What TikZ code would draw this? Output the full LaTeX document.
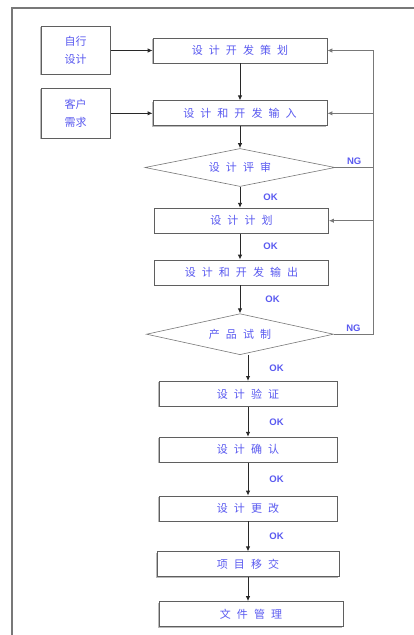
\documentclass[tikz,border=0pt]{standalone}
\usepackage{fontspec}
\usepackage{xcolor}
\usepackage{tikz}
\usetikzlibrary{shapes.geometric,arrows.meta,positioning,shadows}

\newfontfamily\cjk{Noto Sans CJK SC}
\newfontfamily\cjkwide[LetterSpace=55]{Noto Sans CJK SC}
\newfontfamily\lbl{Liberation Sans}

\definecolor{txtblue}{RGB}{90,90,240}
\definecolor{boxgray}{RGB}{95,95,95}
\definecolor{linegray}{RGB}{120,120,120}
\definecolor{arrowdark}{RGB}{40,40,40}

\newcommand{\wide}[1]{#1\hspace{-0.55em}}

\begin{document}
\begin{tikzpicture}[
    x=1pt, y=-1pt,
    stepbox/.style={rectangle, draw=boxgray, line width=0.8pt, fill=white,
        drop shadow={shadow xshift=-0.9pt, shadow yshift=-0.9pt, fill=gray!55, opacity=1},
        minimum width=174pt, minimum height=25pt, inner sep=0pt,
        text=txtblue, font=\cjkwide\fontsize{11}{13}\selectfont},
    sidebox/.style={rectangle, draw=boxgray, line width=0.8pt, fill=white,
        drop shadow={shadow xshift=-0.9pt, shadow yshift=-0.9pt, fill=gray!55, opacity=1},
        minimum width=69pt, minimum height=48pt, inner sep=0pt, align=center,
        text=txtblue, font=\cjk\fontsize{11}{18}\selectfont},
    check/.style={diamond, shape aspect=6, draw=linegray, line width=0.6pt, inner sep=0pt,
        minimum width=190pt, minimum height=38pt,
        text=txtblue, font=\cjkwide\fontsize{11}{13}\selectfont},
    arrow/.style={-{Latex[length=5pt,width=4.5pt]}, draw=arrowdark, line width=0.9pt},
    fbline/.style={draw=linegray, line width=0.9pt},
    fbarrow/.style={fbline, -{Latex[length=5pt,width=4.5pt]}},
    ok/.style={text=txtblue, font=\lbl\bfseries\fontsize{9.5}{10}\selectfont, inner sep=1pt},
    frame/.style={draw=linegray, line width=1.2pt}
]
\useasboundingbox (0,0) rectangle (414,635);

% outer frame
\draw[frame] (12,635) |- (414,8);

% design and development steps
\node[stepbox] (plan) at (240,50.5) {\wide{设计开发策划}};
\node[stepbox, below=37pt of plan] (input) {\wide{设计和开发输入}};
\node[check, below=22pt of input] (review) {\wide{设计评审}};
\node[stepbox, below=21pt of review, xshift=1.5pt] (scheme) {\wide{设计计划}};
\node[stepbox, below=26pt of scheme] (output) {\wide{设计和开发输出}};
\node[check, below=28pt of output, xshift=-1.5pt, minimum width=187pt, minimum height=41pt] (trial) {\wide{产品试制}};
\node[stepbox, below=26pt of trial, xshift=8pt, minimum width=178pt] (verify) {\wide{设计验证}};
\node[stepbox, below=30pt of verify, minimum width=178pt] (confirm) {\wide{设计确认}};
\node[stepbox, below=33pt of confirm, minimum width=178pt] (change) {\wide{设计更改}};
\node[stepbox, below=30pt of change, minimum width=182pt] (handover) {\wide{项目移交}};
\node[stepbox, below=24pt of handover, xshift=3pt, minimum width=184pt] (docs) {\wide{文件管理}};

% inputs on the left
\node[sidebox, left=42pt of plan] (self) {自行\\设计};
\node[sidebox, left=42pt of input, minimum height=50pt] (cust) {客户\\需求};

% feedback line
\coordinate (fb) at (373,0);

% arrows
\draw[arrow] (self) -- (plan);
\draw[arrow] (cust) -- (input);
\draw[arrow] (plan) -- (input);
\draw[arrow] (input) -- (review);
\draw[arrow] (review.south) -- node[ok, right=22pt] {OK} (review.south |- scheme.north);
\draw[arrow] (scheme.south -| review.south) -- node[ok, right=22pt] {OK} (output.north -| review.south);
\draw[arrow] (output.south -| review.south) -- node[ok, right=24pt] {OK} (trial.north);
\draw[arrow] (trial.south -| verify.north) -- node[ok, right=20pt] {OK} (verify.north);
\draw[arrow] (verify) -- node[ok, right=20pt] {OK} (confirm);
\draw[arrow] (confirm) -- node[ok, right=20pt] {OK} (change);
\draw[arrow] (change) -- node[ok, right=20pt] {OK} (change.south |- handover.north);
\draw[arrow] (handover) -- (handover.south |- docs.north);

% NG returns
\draw[fbline] (review.east) -- node[ok, above=1pt] {NG} (review.east -| fb);
\draw[fbarrow] (trial.east) -- node[ok, above=1pt] {NG} (trial.east -| fb) |- (plan.east);
\draw[fbarrow] (input.east -| fb) -- (input.east);
\draw[fbarrow] (scheme.east -| fb) -- (scheme.east);

\end{tikzpicture}
\end{document}
